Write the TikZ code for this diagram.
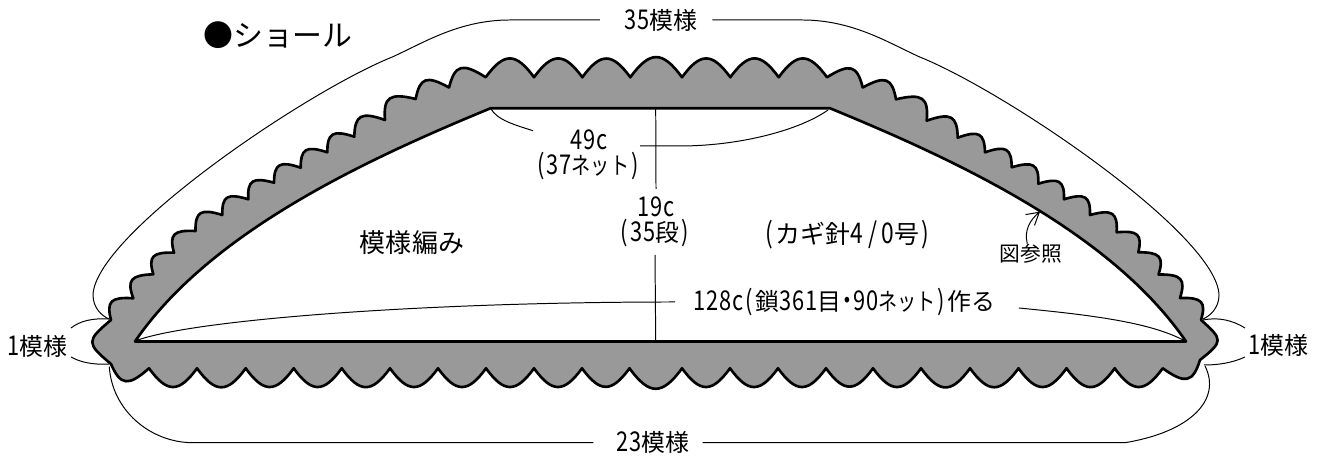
\documentclass[tikz,border=0pt]{standalone}
\usepackage{fontspec}
\setmainfont{Noto Sans CJK JP}
\newfontfamily\halfw[FakeStretch=0.8,Scale=1.14,LetterSpace=3]{Noto Sans CJK JP}
\usetikzlibrary{arrows.meta}
\newcommand{\hw}[1]{{\halfw #1}}
\newcommand{\pn}[1]{\makebox[.5em]{\hw{#1}}}
\newcommand{\net}{\scalebox{.8}[1]{ネット}}
\tikzset{
lbl/.style={inner sep=0pt, font=\fontsize{6.8}{7}\selectfont},
lineb/.style={line width=0.75pt, line join=round},
thinl/.style={line width=0.28pt},
scl/.style={relative, out=60, in=132, out looseness=1.6, in looseness=1.85},
scr/.style={relative, out=48, in=120, out looseness=1.85, in looseness=1.6},
scf/.style={relative, out=54, in=126, looseness=1.65},
lobe/.style={relative, out=50, in=130, looseness=1.9}
}
\begin{document}
\begin{tikzpicture}[x=0.01cm, y=-0.01cm]
\useasboundingbox (0,0) rectangle (1322,456);
% edging
\draw[lineb, fill=black!40] (111,320)
  to[scl] (133.3,298.3) to[scl] (153.3,274.3) to[scl] (174,252.7) to[scl] (195.5,231)
  to[scl] (222.3,215) to[scl] (248.3,199.3) to[scl] (274,182.7) to[scl] (300.7,167.7)
  to[scl] (327.3,152.3) to[scl] (354.3,136.7) to[scl] (385,120) to[scl] (415.7,99)
  to[scl] (449,87.5) to[scl] (485.7,77.3)
  to[scf] (534,77.3) to[scf] (582.3,77.3) to[scf] (630.3,77.3) to[scf] (682,77.3)
  to[scf] (730.3,77.3) to[scf] (778.7,77.3) to[scf] (827,77.3)
  to[scr] (862.7,87.5) to[scr] (896,99.3) to[scr] (926.7,120.7) to[scr] (957.7,137.7)
  to[scr] (985,152.3) to[scr] (1011.7,167.3) to[scr] (1038.3,183.7) to[scr] (1064,199.3)
  to[scr] (1090,215) to[scr] (1116.7,232.3) to[scr] (1138.3,252.3) to[scr] (1158.5,274.5)
  to[scr] (1180,298) to[scr] (1201,320)
  to[lobe] (1200,360) to[scl] (1162.7,368.3)
  to[scf] (1114.7,368.3) to[scf] (1066.5,368.3) to[scf] (1018.5,368.3) to[scf] (970,368.3)
  to[scf] (921,368.3) to[scf] (873,368.3) to[scf] (826,368.3) to[scf] (778,368.3)
  to[scf] (730,368.3) to[scf] (682,368.3) to[scf] (629.5,368.3) to[scf] (582,368.3)
  to[scf] (534,368.3) to[scf] (486,368.3) to[scf] (438,368.3) to[scf] (390,368.3)
  to[scf] (341.7,368.3) to[scf] (293.7,368.3) to[scf] (245.7,368.3) to[scf] (197,368.3)
  to[scf] (149,368.3) to[scr] (111,364) to[lobe] cycle;
% body
\draw[lineb, fill=white] (135,341.5) .. controls (210,232) and (365,160) .. (490.5,108.3)
  -- (830,108.3) .. controls (956,160) and (1111,232) .. (1186,341.5) -- cycle;
% labels
\node[lbl, font=\fontsize{8.5}{9}\selectfont] (title) at (278,35) {●ショール};
\node[lbl, minimum width=1.11cm] (top35) at (656,20) {\hspace*{0.1cm}\hw{35}模様};
\node[lbl, minimum width=1.08cm] (bot23) at (648,442.7) {\hspace*{0.1cm}\hw{23}模様};
\node[lbl] (left1) at (37,346) {\hw{1}模様};
\node[lbl] (right1) at (1278,345) {\hw{1}模様};
\node[lbl] (w49) at (589,140) {\hw{49c}};
\node[lbl] (w37) at (588,166) {\pn{(}\hw{37}\net\pn{)}};
\node[lbl, outer ysep=2.3pt] (h19) at (656,207) {\hw{19c}};
\node[lbl, outer ysep=2.3pt] (h35) at (655,233) {\pn{(}\hw{35}段\pn{)}};
\node[lbl, font=\fontsize{7.4}{8}\selectfont] (pat) at (412,243) {模様編み};
\node[lbl, font=\fontsize{7.1}{8}\selectfont] (hook) at (847.5,235) {\pn{(}カギ針\hw{4\,/\,0}号\pn{)}};
\node[lbl, font=\fontsize{5.9}{6}\selectfont] (see) at (1031,254) {図参照};
\node[lbl, minimum width=3.42cm] (chain) at (847,302) {\hw{128c}\pn{(}鎖\hw{361}目\pn{・}\hw{90}\net\pn{)}作る\hspace*{0.05cm}};
% connectors
\coordinate (botL) at (135,341);
\coordinate (botR) at (1185,341);
\coordinate (topM) at (655.7,108.3);
\coordinate (baseM) at (655.7,341);
\coordinate (nL) at (490.7,108.5);
\coordinate (nR) at (828,110);
\draw[thinl] (top35.west) -- (510,20) .. controls (460,20) and (425,42) .. (393,56.7)
  .. controls (305,92) and (95,235) .. (93,295)
  .. controls (93,308) and (102,316) .. (109,319);
\draw[thinl] (top35.east) -- (802,20) .. controls (852,20) and (887,42) .. (919,56.7)
  .. controls (1007,92) and (1217,235) .. (1219,295)
  .. controls (1219,308) and (1210,316) .. (1203,319);
\draw[thinl] (bot23.west) -- (193,442.7) .. controls (150,442.7) and (112,410) .. (109.3,366.7);
\draw[thinl] (bot23.east) -- (1125,442.7) .. controls (1190,432) and (1222,400) .. (1205,366);
\draw[thinl] (71,328) .. controls (80,321) and (92,318) .. (109,319);
\draw[thinl] (71,357) .. controls (80,362) and (92,365) .. (109,364);
\draw[thinl] (1245,328) .. controls (1232,320) and (1218,317) .. (1203,320);
\draw[thinl] (1245,357) .. controls (1232,363) and (1218,365) .. (1204,365);
\draw[thinl] (nL) .. controls (497,120) and (515,125) .. (533,130.7);
\draw[thinl] (640,146) -- (680,146) .. controls (740,146) and (800,130) .. (nR);
\draw[thinl] (topM) -- (h19.north);
\draw[thinl] (h35.south) -- (baseM);
\draw[thinl] (botL) .. controls (190,320) and (420,302) .. (chain.west);
\draw[thinl] (chain.-2) .. controls (1090,315) and (1150,322) .. (botR);
\draw[thinl, -{Straight Barb[length=1.2mm,width=1.4mm]}] (see.110) .. controls (1024,230) and (1030,220) .. (1040,211.7);
\end{tikzpicture}
\end{document}
